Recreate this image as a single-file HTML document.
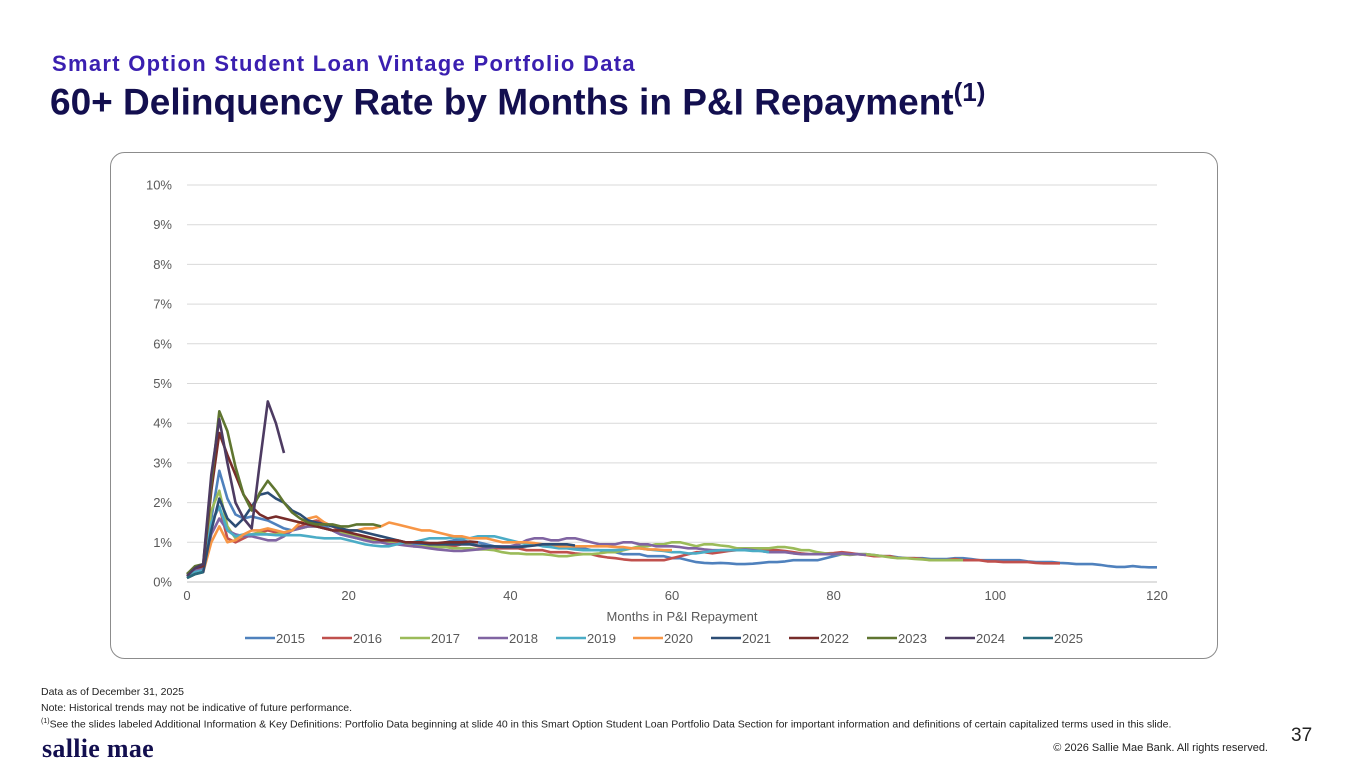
<!DOCTYPE html>
<html><head><meta charset="utf-8">
<style>
body{margin:0;width:1365px;height:768px;background:#fff;font-family:"Liberation Sans",sans-serif;position:relative;overflow:hidden}
.t1{position:absolute;left:52px;top:51px;font-size:22px;font-weight:bold;color:#3a1fb0;letter-spacing:1.3px;white-space:nowrap}
.t2{position:absolute;left:50px;top:77px;font-size:37px;font-weight:bold;color:#130f4f;letter-spacing:0px;white-space:nowrap}
.t2 sup{font-size:26px}
.foot{position:absolute;left:41px;font-size:10.5px;color:#222;white-space:nowrap}
</style></head><body>
<div class="t1">Smart Option Student Loan Vintage Portfolio Data</div>
<div class="t2">60+ Delinquency Rate by Months in P&amp;I Repayment<sup>(1)</sup></div>
<svg id="chart" width="1365" height="768" style="position:absolute;left:0;top:0">
<rect x="110.5" y="152.5" width="1107" height="506" rx="14" fill="#fff" stroke="#8c8c8c" stroke-width="1"/>
</svg>
<div class="foot" style="top:686px">Data as of December 31, 2025</div>
<div class="foot" style="top:702px">Note: Historical trends may not be indicative of future performance.</div>
<div class="foot" style="top:718px"><sup style="font-size:7px">(1)</sup>See the slides labeled Additional Information &amp; Key Definitions: Portfolio Data beginning at slide 40 in this Smart Option Student Loan Portfolio Data Section for important information and definitions of certain capitalized terms used in this slide.</div>
<div style="position:absolute;left:42px;top:734px;font-family:'Liberation Serif',serif;font-weight:bold;font-size:26px;color:#130f4f;letter-spacing:0.3px">sallie mae</div>
<div style="position:absolute;left:1291px;top:725px;font-size:19px;color:#222">37</div>
<div style="position:absolute;right:97px;top:742px;font-size:11px;color:#222">© 2026 Sallie Mae Bank. All rights reserved.</div>
<script>
const years=["2015","2016","2017","2018","2019","2020","2021","2022","2023","2024","2025"];
const xTicks=[0,20,40,60,80,100,120];
const yTicks=[0,1,2,3,4,5,6,7,8,9,10];
const s2015=[0.1,0.25,0.3,1.6,2.8,2.1,1.7,1.6,1.65,1.6,1.55,1.45,1.35,1.3,1.35,1.4,1.5,1.4,1.3,1.2,1.15,1.1,1.05,1.05,1.0,1.0,1.0,0.95,0.95,0.95,0.95,0.95,1.0,1.05,1.05,1.0,1.0,0.95,0.9,0.9,0.9,0.9,0.9,0.95,0.95,0.95,0.9,0.9,0.85,0.85,0.8,0.8,0.75,0.75,0.7,0.7,0.7,0.65,0.65,0.65,0.6,0.6,0.55,0.5,0.48,0.47,0.48,0.47,0.45,0.45,0.46,0.48,0.5,0.5,0.52,0.55,0.55,0.55,0.55,0.6,0.65,0.7,0.7,0.7,0.7,0.68,0.65,0.65,0.62,0.6,0.6,0.6,0.58,0.58,0.58,0.6,0.6,0.58,0.55,0.55,0.55,0.55,0.55,0.55,0.52,0.5,0.5,0.5,0.48,0.47,0.45,0.45,0.45,0.43,0.4,0.38,0.38,0.4,0.38,0.37,0.37];
const s2016=[0.15,0.3,0.35,1.5,1.9,1.1,1.0,1.1,1.2,1.25,1.3,1.25,1.2,1.3,1.4,1.5,1.55,1.5,1.4,1.3,1.2,1.15,1.1,1.05,1.05,1.0,1.0,0.95,0.9,0.9,0.9,0.9,0.9,0.9,0.95,0.95,0.9,0.9,0.85,0.85,0.85,0.85,0.8,0.8,0.8,0.75,0.75,0.75,0.72,0.7,0.7,0.65,0.62,0.6,0.57,0.55,0.55,0.55,0.55,0.55,0.6,0.65,0.7,0.75,0.75,0.72,0.75,0.78,0.8,0.8,0.8,0.8,0.8,0.8,0.78,0.75,0.72,0.7,0.7,0.72,0.73,0.75,0.73,0.7,0.68,0.65,0.65,0.65,0.6,0.6,0.6,0.58,0.55,0.55,0.55,0.58,0.55,0.55,0.55,0.52,0.52,0.5,0.5,0.5,0.5,0.48,0.47,0.47,0.47];
const s2017=[0.15,0.3,0.35,1.8,2.3,1.4,1.1,1.15,1.2,1.25,1.2,1.2,1.25,1.3,1.35,1.4,1.4,1.35,1.3,1.25,1.2,1.15,1.1,1.05,1.0,1.0,0.95,0.95,0.9,0.9,0.9,0.88,0.88,0.85,0.85,0.85,0.82,0.82,0.8,0.75,0.72,0.72,0.7,0.7,0.7,0.68,0.65,0.65,0.68,0.7,0.7,0.72,0.75,0.75,0.8,0.85,0.9,0.9,0.95,0.95,1.0,1.0,0.95,0.9,0.95,0.95,0.92,0.9,0.85,0.85,0.85,0.85,0.85,0.88,0.88,0.85,0.8,0.8,0.75,0.72,0.7,0.7,0.68,0.7,0.7,0.68,0.65,0.62,0.6,0.6,0.58,0.57,0.55,0.55,0.55,0.55,0.55];
const s2018=[0.15,0.3,0.35,1.2,1.6,1.3,1.2,1.15,1.15,1.1,1.05,1.05,1.15,1.3,1.35,1.4,1.4,1.35,1.3,1.2,1.15,1.1,1.05,1.0,1.0,0.95,0.95,0.92,0.9,0.88,0.85,0.82,0.8,0.78,0.78,0.8,0.82,0.85,0.88,0.9,0.9,0.95,1.05,1.1,1.1,1.05,1.05,1.1,1.1,1.05,1.0,0.95,0.95,0.95,1.0,1.0,0.95,0.95,0.9,0.9,0.9,0.88,0.85,0.85,0.82,0.8,0.8,0.8,0.8,0.82,0.8,0.78,0.75,0.75,0.75,0.72,0.7,0.7,0.7,0.7,0.7,0.72,0.7,0.7,0.68];
const s2019=[0.15,0.25,0.3,1.5,1.9,1.3,1.15,1.2,1.2,1.2,1.2,1.18,1.18,1.18,1.18,1.15,1.12,1.1,1.1,1.1,1.05,1.0,0.95,0.92,0.9,0.9,0.95,1.0,1.0,1.05,1.1,1.1,1.1,1.12,1.1,1.1,1.15,1.15,1.15,1.1,1.05,1.0,0.95,0.95,0.9,0.88,0.85,0.85,0.82,0.8,0.8,0.8,0.8,0.8,0.82,0.85,0.85,0.82,0.8,0.78,0.75,0.75,0.72,0.72,0.75,0.78,0.8,0.8,0.8,0.8,0.78,0.78,0.75];
const s2020=[0.1,0.2,0.25,1.0,1.4,1.0,1.05,1.2,1.3,1.3,1.35,1.3,1.25,1.3,1.5,1.6,1.65,1.5,1.4,1.35,1.3,1.3,1.35,1.35,1.4,1.5,1.45,1.4,1.35,1.3,1.3,1.25,1.2,1.15,1.15,1.1,1.1,1.1,1.05,1.0,1.0,1.0,1.0,0.98,0.95,0.95,0.9,0.9,0.9,0.9,0.9,0.9,0.9,0.88,0.88,0.85,0.85,0.82,0.82,0.8,0.8];
const s2021=[0.1,0.2,0.25,1.3,2.1,1.6,1.4,1.6,1.9,2.2,2.25,2.1,2.0,1.8,1.7,1.55,1.5,1.45,1.4,1.35,1.3,1.3,1.25,1.2,1.15,1.1,1.05,1.0,1.0,0.98,0.95,0.95,0.95,0.95,0.95,0.95,0.92,0.9,0.9,0.88,0.88,0.88,0.9,0.92,0.95,0.95,0.95,0.95,0.92];
const s2022=[0.2,0.35,0.4,2.3,3.75,3.2,2.7,2.2,1.9,1.7,1.6,1.65,1.6,1.55,1.5,1.45,1.4,1.35,1.3,1.3,1.25,1.2,1.15,1.1,1.05,1.05,1.05,1.0,1.0,1.0,0.98,0.98,1.0,1.0,1.0,1.02,1.0];
const s2023=[0.2,0.4,0.45,2.5,4.3,3.8,2.9,2.2,1.8,2.25,2.55,2.3,2.0,1.75,1.6,1.5,1.45,1.45,1.45,1.4,1.4,1.45,1.45,1.45,1.4];
const s2024=[0.15,0.35,0.45,2.7,4.1,3.0,2.0,1.6,1.35,3.0,4.55,4.0,3.25];
const s2025=[0.1,0.2,0.25];
const seriesVals=[s2015,s2016,s2017,s2018,s2019,s2020,s2021,s2022,s2023,s2024,s2025];
const colors=["#4f81bd","#c0504d","#9bbb59","#8064a2","#4bacc6","#f79646","#2c4d75","#772c2a","#5f7530","#4d3b62","#276a7c"];
const NS="http://www.w3.org/2000/svg";
const svg=document.getElementById("chart");
const X0=187,X1=1157,Y0=582,Y1=185;
const xs=v=>X0+(v-0)/(120-0)*(X1-X0);
const ys=v=>Y0-(v-0)/(10-0)*(Y0-Y1);
function mk(tag,attrs){const e=document.createElementNS(NS,tag);for(const k in attrs)e.setAttribute(k,attrs[k]);svg.appendChild(e);return e;}
yTicks.forEach(t=>{
  const l=mk("line",{x1:X0,x2:X1,y1:ys(t),y2:ys(t),stroke:t===0?"#bfbfbf":"#d9d9d9","stroke-width":1});
  
  
  const tx=mk("text",{x:172,y:ys(t)+4.5,"text-anchor":"end","font-size":"13","fill":"#595959","font-family":"Liberation Sans, sans-serif"});
  tx.textContent=t+"%";
  
  
});
xTicks.forEach(t=>{
  const tx=mk("text",{x:xs(t),y:600,"text-anchor":"middle","font-size":"13","fill":"#595959","font-family":"Liberation Sans, sans-serif"});
  tx.textContent=t;
  
  
});
const at=mk("text",{x:682,y:621,"text-anchor":"middle","font-size":"13","fill":"#595959","font-family":"Liberation Sans, sans-serif"});
at.textContent="Months in P&I Repayment";


seriesVals.forEach((arr,i)=>{
  const d=arr.map((v,j)=>(j?"L":"M")+xs(j).toFixed(1)+" "+ys(v).toFixed(1)).join(" ");
  const p=mk("path",{d:d,fill:"none",stroke:colors[i],"stroke-width":2.6,"stroke-linejoin":"round"});
  
  
});
const legX=[245,322,400,478,556,633,711,789,867,945,1023];
years.forEach((y,i)=>{
  const lx=legX[i];
  const l=mk("line",{x1:lx,x2:lx+30,y1:638,y2:638,stroke:colors[i],"stroke-width":2.6});
  
  
  const t=mk("text",{x:lx+31,y:643,"font-size":"13","fill":"#595959","font-family":"Liberation Sans, sans-serif"});
  t.textContent=y;
  
  
});
</script>
</body></html>
